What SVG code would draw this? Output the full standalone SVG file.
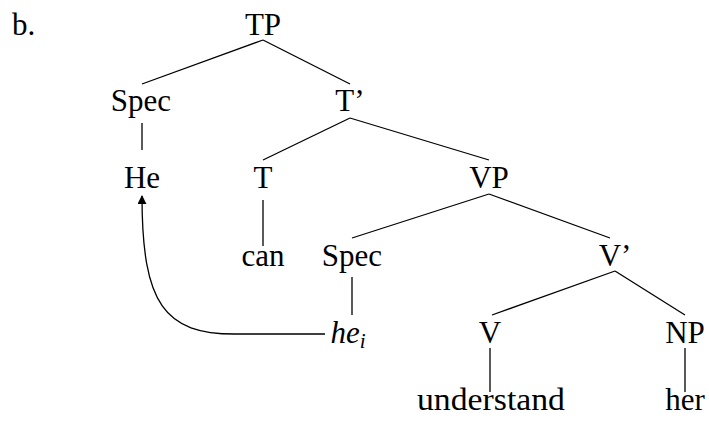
<svg xmlns="http://www.w3.org/2000/svg" width="709" height="425" viewBox="0 0 709 425">
<style>
text{font-family:"Liberation Serif","Times New Roman",serif;font-size:31px;fill:#000;text-anchor:middle}
.e{stroke:#000;stroke-width:1.3;fill:none}
</style>
<defs>
<marker id="ah" viewBox="0 0 10 10" refX="9" refY="5" markerWidth="9" markerHeight="9" markerUnits="userSpaceOnUse" orient="auto"><path d="M0,0 L10,5 L0,10 z" fill="#000"/></marker>
</defs>
<rect width="709" height="425" fill="#fff"/>
<text x="12" y="35" style="text-anchor:start">b.</text>
<g id="connectors">
<line class="e" x1="263" y1="40" x2="142" y2="84"/>
<line class="e" x1="263" y1="40" x2="350" y2="84"/>
<line class="e" x1="142" y1="123" x2="142" y2="150"/>
<line class="e" x1="350" y1="118" x2="263" y2="160"/>
<line class="e" x1="350" y1="118" x2="489" y2="160"/>
<line class="e" x1="263" y1="200" x2="263" y2="246"/>
<line class="e" x1="489" y1="194" x2="352" y2="238"/>
<line class="e" x1="489" y1="194" x2="610" y2="238"/>
<line class="e" x1="352" y1="277" x2="352" y2="315"/>
<line class="e" x1="615" y1="271" x2="492" y2="315"/>
<line class="e" x1="615" y1="271" x2="685" y2="315"/>
<line class="e" x1="490" y1="348" x2="490" y2="392"/>
<line class="e" x1="685" y1="348" x2="685" y2="392"/>
<path class="e" d="M325,334 L235,334 C165,334 142,305 142,196" marker-end="url(#ah)"/>
</g>
<g id="TP"><text x="263" y="35">TP</text></g>
<g id="Spec1"><text x="141" y="111">Spec</text></g>
<g id="Tbar"><text x="350" y="111">T’</text></g>
<g id="He"><text x="142" y="188">He</text></g>
<g id="T"><text x="263" y="188">T</text></g>
<g id="VP"><text x="489" y="188">VP</text></g>
<g id="can"><text x="263" y="266">can</text></g>
<g id="Spec2"><text x="352" y="266">Spec</text></g>
<g id="Vbar"><text x="615" y="266">V’</text></g>
<g id="hei"><text x="348" y="343" style="font-style:italic">he<tspan font-size="21" dy="5">i</tspan></text></g>
<g id="V"><text x="490" y="343">V</text></g>
<g id="NP"><text x="685" y="343">NP</text></g>
<g id="understand"><text x="491" y="410" textLength="148" lengthAdjust="spacingAndGlyphs">understand</text></g>
<g id="her"><text x="685" y="410">her</text></g>
</svg>
